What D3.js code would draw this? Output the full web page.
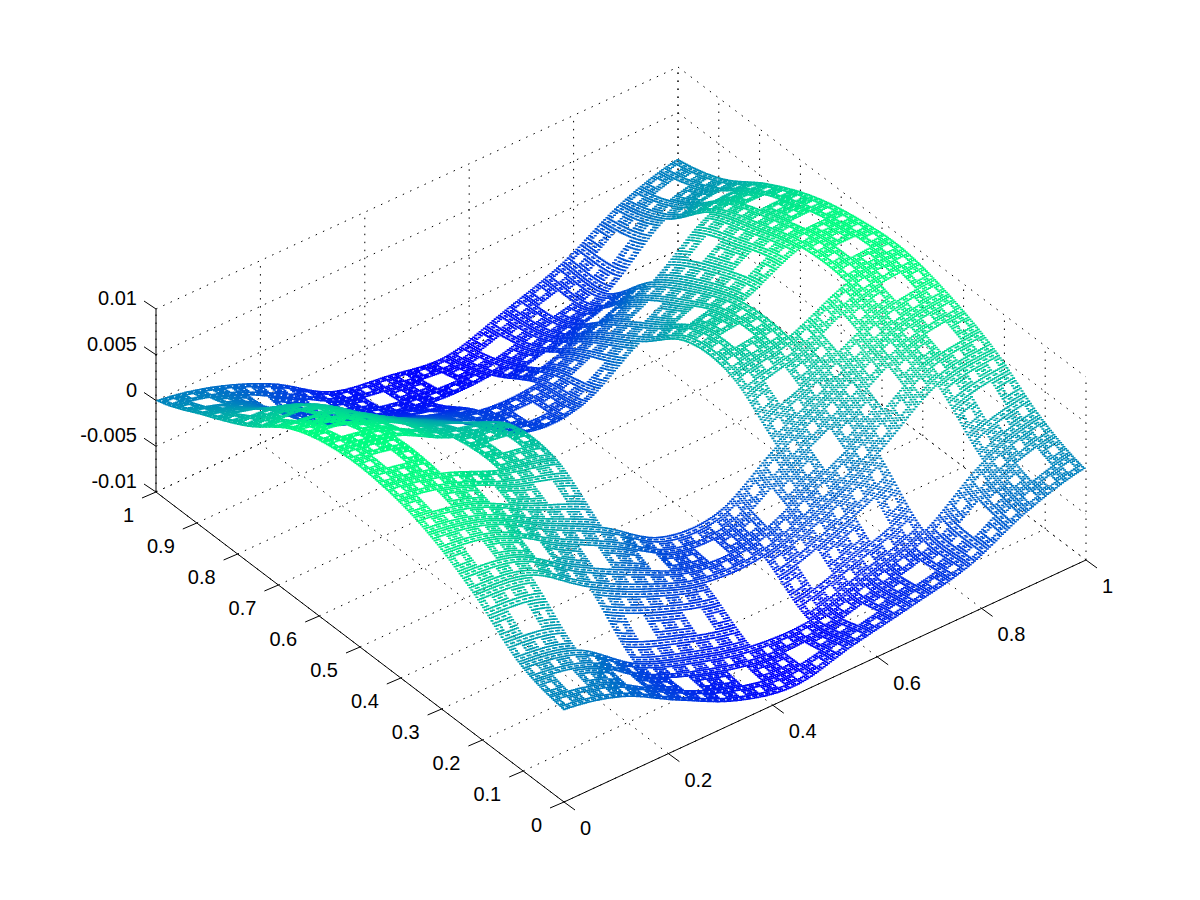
<!DOCTYPE html>
<html>
<head>
<meta charset="utf-8">
<script src="https://cdn.jsdelivr.net/npm/d3@7"></script>
<style>
  html, body { margin: 0; background: #fff; }
  svg { display: block; }
  text { font-family: "Liberation Sans", sans-serif; font-size: 20px; fill: #000; }
</style>
</head>
<body>
<svg width="1200" height="900"></svg>
<script>
var xTicks = [0, 0.2, 0.4, 0.6, 0.8, 1];
var yTicks = [0, 0.1, 0.2, 0.3, 0.4, 0.5, 0.6, 0.7, 0.8, 0.9, 1];
var zTicks = [-0.01, -0.005, 0, 0.005, 0.01];
var xTickLabels = ["0", "0.2", "0.4", "0.6", "0.8", "1"];
var yTickLabels = ["0", "0.1", "0.2", "0.3", "0.4", "0.5", "0.6", "0.7", "0.8", "0.9", "1"];
var zTickLabels = ["-0.01", "-0.005", "0", "0.005", "0.01"];

// heights in thousandths at x = 0, 1/9 ... 1, one row per y = 0, 1/9 ... 1
var zRow0 = [0, -1.5, -4.8, -7.8, -9.1, -7.6, -6.3, -4.8, -1.8, 0];
var zRow1 = [1.4, 0, -4.4, -6.8, -8.4, -8.6, -6.8, -4.6, 0, 2.0];
var zRow2 = [5.2, 4.2, 0, -3.2, -5.4, -5.5, -3.2, 0, 4.4, 5.5];
var zRow3 = [8.0, 6.6, 3.2, 0, -4.0, -4.2, 0, 3.2, 6.6, 7.7];
var zRow4 = [9.4, 8.0, 5.4, 3.6, 0, 0, 3.8, 5.3, 8.2, 8.9];
var zRow5 = [9.5, 8.2, 5.1, 3.6, 0, 0, 3.8, 5.3, 8.2, 8.5];
var zRow6 = [8.1, 6.6, 3.2, 0, -4.0, -4.0, 0, 3.2, 6.6, 7.2];
var zRow7 = [4.7, 4.2, 0, -3.2, -5.3, -5.3, -3.2, 0, 4.5, 4.8];
var zRow8 = [2.2, 0, -4.6, -6.8, -8.2, -8.2, -6.8, -5.0, 0, 1.6];
var zRow9 = [0, -1.4, -4.0, -7.8, -9.0, -9.8, -7.8, -5.5, -2.0, 0];
var zRows = [zRow0, zRow1, zRow2, zRow3, zRow4, zRow5, zRow6, zRow7, zRow8, zRow9];

var carpetLevel = 5;
var colourSteps = 64;

var svg = d3.select("svg"),
  originX = 564,
  originY = 802;

// oblique view: each data axis moves the pixel along its own screen direction
var xToPx = d3.scaleLinear().domain([0, 1]).range([0, 522]),
  xToPy = d3.scaleLinear().domain([0, 1]).range([0, -242]),
  yToPx = d3.scaleLinear().domain([0, 1]).range([0, -408]),
  yToPy = d3.scaleLinear().domain([0, 1]).range([0, -310]),
  zToPy = d3.scaleLinear().domain([-0.01, 0.01]).range([0, -183]);

function project(x, y, z) {
  return [originX + xToPx(x) + yToPx(y), originY + xToPy(x) + yToPy(y) + zToPy(z)];
}

var colour = d3.scaleLinear().domain([-9.2, 8.6]).range(["#0000ff", "#00ff80"]);

// the table holds what could be read; the carpet dots sample it with a smooth curve
function catmull(a, b, c, d, t) {
  return 0.5 * (2 * b + (c - a) * t + (2 * a - 5 * b + 4 * c - d) * t * t + (3 * b - a - 3 * c + d) * t * t * t);
}
function clampIndex(i) { return Math.max(0, Math.min(9, i)); }
function heightAt(x, y) {
  var u = x * 9, v = y * 9,
    i = Math.min(8, Math.floor(u)), j = Math.min(8, Math.floor(v)),
    rows = [];
  for (var m = -1; m <= 2; m++) {
    var r = zRows[clampIndex(j + m)];
    rows.push(catmull(r[clampIndex(i - 1)], r[i], r[i + 1], r[clampIndex(i + 2)], u - i));
  }
  return catmull(rows[0], rows[1], rows[2], rows[3], v - j);
}

function inCarpet(i, j) {
  while (i > 0 || j > 0) {
    if (i % 3 === 1 && j % 3 === 1) return false;
    i = Math.floor(i / 3);
    j = Math.floor(j / 3);
  }
  return true;
}

function dottedLine(a, b) {
  var p = project(a[0], a[1], a[2]), q = project(b[0], b[1], b[2]);
  grid.append("line")
    .attr("x1", p[0]).attr("y1", p[1])
    .attr("x2", q[0]).attr("y2", q[1]);
}

var grid = svg.append("g")
  .attr("stroke", "#000")
  .attr("stroke-width", 1)
  .attr("stroke-dasharray", "1.5 6.5");

xTicks.forEach(function(x) {
  dottedLine([x, 0, -0.01], [x, 1, -0.01]);
  dottedLine([x, 1, -0.01], [x, 1, 0.01]);
});
yTicks.forEach(function(y) {
  dottedLine([0, y, -0.01], [1, y, -0.01]);
  dottedLine([1, y, -0.01], [1, y, 0.01]);
});
zTicks.forEach(function(z) {
  dottedLine([0, 1, z], [1, 1, z]);
  dottedLine([1, 1, z], [1, 0, z]);
});

var axes = svg.append("g").attr("stroke", "#000").attr("stroke-width", 1);

function solidLine(p, dx, dy) {
  axes.append("line")
    .attr("x1", p[0]).attr("y1", p[1])
    .attr("x2", p[0] + dx).attr("y2", p[1] + dy);
}
function axisLine(a, b) {
  var p = project(a[0], a[1], a[2]), q = project(b[0], b[1], b[2]);
  solidLine(p, q[0] - p[0], q[1] - p[1]);
}
axisLine([0, 0, -0.01], [1, 0, -0.01]);
axisLine([0, 0, -0.01], [0, 1, -0.01]);
axisLine([0, 1, -0.01], [0, 1, 0.01]);

xTicks.forEach(function(x, i) {
  var p = project(x, 0, -0.01);
  solidLine(p, 11, 8);
  svg.append("text").attr("x", p[0] + 16).attr("y", p[1] + 33).text(xTickLabels[i]);
});
yTicks.forEach(function(y, i) {
  var p = project(0, y, -0.01);
  solidLine(p, -14, 6);
  svg.append("text").attr("x", p[0] - 22).attr("y", p[1] + 30)
    .attr("text-anchor", "end").text(yTickLabels[i]);
});
zTicks.forEach(function(z, i) {
  var p = project(0, 1, z);
  solidLine(p, -12, -8);
  svg.append("text").attr("x", p[0] - 19).attr("y", p[1] - 4)
    .attr("text-anchor", "end").text(zTickLabels[i]);
});

// one path per colour step, low to high, so the high green parts lie on top
var n = Math.pow(3, carpetLevel),
  paths = d3.range(colourSteps).map(function() { return []; }),
  step = d3.scaleQuantize().domain(colour.domain()).range(d3.range(colourSteps));

for (var j = 0; j < n; j++) {
  for (var i = 0; i < n; i++) {
    if (!inCarpet(i, j)) continue;
    var x = (i + 0.5) / n, y = (j + 0.5) / n,
      h = heightAt(x, y),
      p = project(x, y, h / 1000);
    paths[step(h)].push("M" + (p[0] - 1.5).toFixed(1) + " " + (p[1] - 0.8).toFixed(1) + "h3v1.6h-3z");
  }
}

svg.append("g")
  .selectAll("path")
  .data(paths)
  .enter().append("path")
  .attr("fill", function(d, i) {
    return colour(colour.domain()[0] + (i + 0.5) / colourSteps * (colour.domain()[1] - colour.domain()[0]));
  })
  .attr("d", function(d) { return d.join(""); });
</script>
</body>
</html>
